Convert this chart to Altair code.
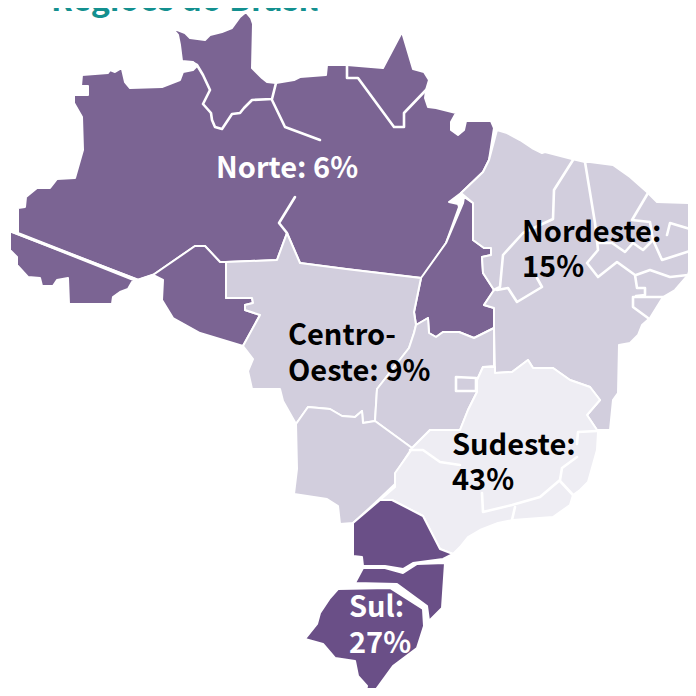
import altair as alt

NORTE = "#7B6493"
SUL = "#6A4F87"
MEIO = "#D2CEDD"
SUDESTE = "#EEEDF3"

norte_main = [(18,233),(18,208),(25,207),(26,197),(37,188),(50,188),(57,179),(75,178),(83,150),(82,117),(74,103),(74,95),(88,95),(88,86),(81,86),(82,75),(108,73),(110,70),(115,72),(120,69),(122,69),(125,82),(130,88),(162,87),(180,80),(183,72),(193,70),(197,66),(193,62),(182,61),(180,45),(178,35),(172,28),(185,33),(190,38),(205,40),(210,35),(222,32),(232,28),(240,17),(246,12),(251,18),(253,24),(252,68),(262,78),(267,82),(276,83),(294,80),(300,77),(326,75),(327,65),(347,65),(383,68),(402,32),(413,69),(424,72),(429,80),(426,90),(425,98),(428,107),(436,108),(456,113),(451,122),(451,130),(458,135),(464,130),(466,121),(491,121),(494,128),(489,160),(483,172),(461,193),(449,202),(458,204),(459,207),(446,243),(422,278),(346,269),(300,263),(287,233),(277,260),(225,262),(220,262),(205,246),(195,246),(153,275),(138,280)]
acre = [(10,231),(10,250),(17,257),(17,265),(28,277),(40,278),(42,286),(53,286),(57,280),(68,278),(69,304),(112,304),(113,297),(120,292),(128,289),(132,282),(136,281)]
rondonia = [(153,275),(163,280),(162,300),(173,318),(200,333),(243,346),(260,315),(245,310),(245,305),(253,303),(252,298),(226,298),(226,262),(220,262),(205,246),(195,246)]
tocantins = [(464,197),(473,203),(473,240),(484,248),(491,248),(491,255),(482,257),(483,273),(494,290),(484,305),(494,308),(494,328),(474,338),(459,332),(443,332),(436,337),(429,333),(428,318),(416,325),(414,312),(421,278),(446,243),(463,203)]
mato_grosso = [(226,262),(277,260),(287,233),(300,263),(346,269),(421,278),(414,312),(416,325),(414,333),(409,348),(377,389),(375,421),(363,423),(362,411),(355,417),(342,416),(330,409),(308,407),(296,424),(283,401),(280,389),(252,389),(248,371),(253,359),(243,346),(260,315),(245,310),(245,305),(253,303),(252,298),(226,298)]
goias = [(414,333),(416,325),(428,318),(429,333),(436,337),(443,332),(459,332),(474,338),(494,328),(494,366),(483,367),(477,380),(477,392),(468,410),(460,430),(430,430),(412,448),(375,421),(377,389),(409,348)]
mato_grosso_sul = [(296,424),(308,407),(330,409),(342,416),(355,417),(362,411),(363,423),(375,421),(412,448),(397,471),(395,484),(375,503),(353,523),(340,524),(338,506),(327,499),(294,494),(297,469)]
nordeste = [(497,130),(507,133),(520,140),(532,148),(542,153),(545,152),(572,159),(585,162),(590,162),(613,165),(630,177),(647,192),(657,202),(690,203),(693,217),(696,228),(696,240),(693,257),(688,275),(675,290),(663,297),(650,318),(642,325),(638,335),(630,343),(619,345),(618,393),(613,400),(610,430),(597,430),(587,415),(600,400),(590,387),(570,380),(553,368),(533,368),(528,360),(512,372),(495,373),(494,328),(494,308),(484,305),(494,290),(483,273),(482,257),(491,255),(491,248),(484,248),(473,240),(473,203),(461,193),(483,172),(489,160)]
sudeste = [(412,448),(430,430),(460,430),(468,410),(477,392),(477,380),(483,367),(495,367),(495,373),(512,372),(528,360),(533,368),(553,368),(570,380),(590,387),(600,400),(587,415),(597,430),(598,432),(597,450),(588,482),(580,490),(573,495),(570,505),(553,517),(513,520),(498,523),(480,530),(468,537),(460,547),(453,554),(440,549),(423,516),(392,500),(380,500),(395,487),(395,473),(410,452)]
parana = [(353,523),(380,500),(392,500),(423,516),(440,549),(453,554),(443,559),(413,563),(403,569),(385,566),(363,566),(362,557),(353,556)]
santa_catarina = [(363,568),(385,568),(403,573),(417,564),(445,563),(442,608),(429,621),(427,606),(397,584),(355,583)]
rio_grande_sul = [(338,589),(390,588),(423,609),(424,626),(417,648),(393,666),(372,695),(365,695),(367,686),(358,676),(355,661),(335,658),(323,644),(305,639),(317,624),(320,613),(330,598)]

polygons = [
    (norte_main, NORTE), (acre, NORTE), (rondonia, NORTE), (tocantins, NORTE),
    (mato_grosso, MEIO), (goias, MEIO), (mato_grosso_sul, MEIO), (nordeste, MEIO),
    (sudeste, SUDESTE), (parana, SUL), (santa_catarina, SUL), (rio_grande_sul, SUL),
]

borders = [
    [(193,63),(197,65),(203,75),(210,90),(203,104),(211,113),(212,120),(215,127),(222,129),(228,120),(232,114),(240,113),(244,108),(252,100),(272,99),(276,83)],
    [(272,100),(285,127),(320,140)],
    [(295,197),(279,223),(287,233)],
    [(347,65),(347,78),(358,78),(394,127),(404,127),(404,113),(426,90)],
    [(10,231),(138,280),(153,275)],
    [(456,377),(476,378),(476,391),(456,391),(456,377)],
    [(573,160),(554,190),(553,219),(523,233),(503,255),(500,287),(494,290)],
    [(497,290),(508,288),(517,302),(542,287),(537,278)],
    [(585,162),(595,223),(598,250),(587,263),(598,277),(617,262),(635,275),(637,288),(645,288),(645,295),(636,296)],
    [(633,298),(633,307),(648,318)],
    [(633,297),(663,297)],
    [(636,275),(650,270),(670,277),(688,275)],
    [(693,250),(662,260),(653,240)],
    [(697,231),(670,223),(667,235)],
    [(598,243),(612,243),(625,252),(633,243),(643,250),(653,240),(650,222),(632,220),(648,193)],
    [(410,450),(423,450),(440,462),(460,465)],
    [(482,493),(483,512),(512,505),(540,497),(560,480),(562,468),(577,457)],
    [(577,444),(578,432),(597,431)],
    [(515,507),(512,520)],
    [(560,481),(573,495)],
]

label_text = ["Regiões do Brasil", "Norte: 6%", "Nordeste:", "15%", "Centro-", "Oeste: 9%", "Sudeste:", "43%", "Sul:", "27%"]
label_x = [51, 216, 522, 522, 288, 288, 452, 452, 349, 349]
label_y = [11, 178, 242, 277, 345, 381, 455, 490, 617, 653]
label_color = ["#13908F", "#FFFFFF", "#000000", "#000000", "#000000", "#000000", "#000000", "#000000", "#FFFFFF", "#FFFFFF"]
label_size = [32, 29, 29, 29, 29, 29, 29, 29, 29, 29]

proj = dict(type="identity", scale=1, translate=[-8, -8])


def geo(features):
    return alt.InlineData(values={"type": "FeatureCollection", "features": features},
                          format=alt.DataFormat(property="features", type="json"))


poly_features = [
    {"type": "Feature", "properties": {"fill": c},
     "geometry": {"type": "Polygon", "coordinates": [[list(p) for p in pts] + [list(pts[0])]]}}
    for pts, c in polygons
]
line_features = [
    {"type": "Feature", "properties": {},
     "geometry": {"type": "LineString", "coordinates": [list(p) for p in pts]}}
    for pts in borders
]

fills = alt.Chart(geo(poly_features)).mark_geoshape(stroke="white", strokeWidth=2, strokeJoin="round").encode(
    fill=alt.Fill("properties.fill:N", scale=None)
).project(**proj)

lines = alt.Chart(geo(line_features)).mark_geoshape(filled=False, stroke="white", strokeWidth=2.6, strokeJoin="round", strokeCap="round").project(**proj)

labels = alt.Chart(alt.Data(values=[
    {"t": t, "x": x, "y": y, "c": c, "s": s}
    for t, x, y, c, s in zip(label_text, label_x, label_y, label_color, label_size)
])).mark_text(align="left", baseline="alphabetic", font="Noto Sans CJK JP", fontWeight=700).encode(
    longitude="x:Q", latitude="y:Q", text="t:N",
    color=alt.Color("c:N", scale=None),
    size=alt.Size("s:Q", scale=None),
).project(**proj)

chart = alt.layer(fills, lines, labels).properties(
    width=680, height=680, padding=0,
    autosize=alt.AutoSizeParams(type="none"),
).configure_view(stroke=None)

chart.save("out.html", embed_options={"renderer": "svg", "actions": False})
